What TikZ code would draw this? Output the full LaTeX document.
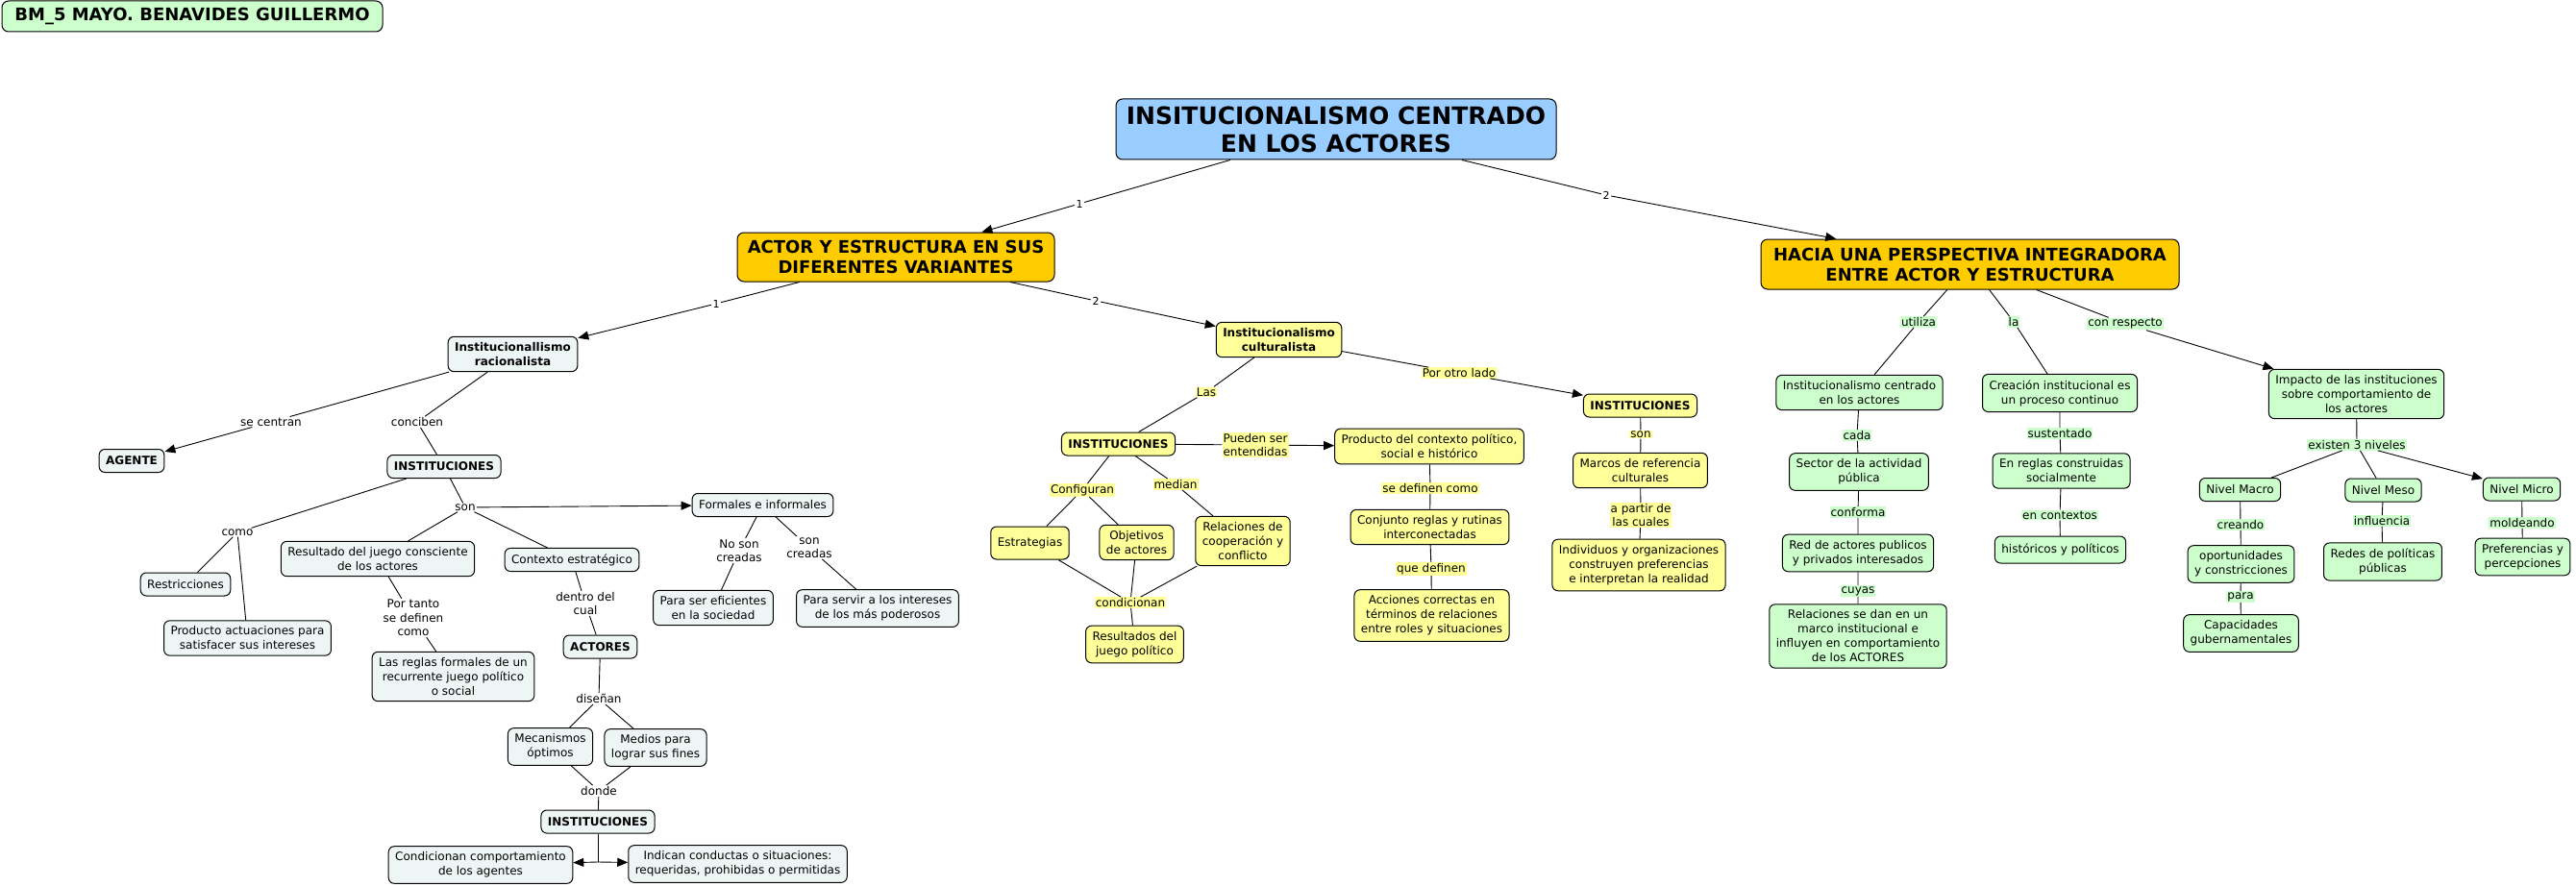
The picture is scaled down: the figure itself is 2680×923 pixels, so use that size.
\documentclass[tikz,border=0pt]{standalone}
\usepackage{fontspec}
\setmainfont{DejaVu Sans}
\usetikzlibrary{arrows.meta, positioning, shapes.misc}
\definecolor{mapblue}{RGB}{153,204,255}
\definecolor{maporange}{RGB}{255,204,0}
\definecolor{mapyellow}{RGB}{255,255,153}
\definecolor{mapgreen}{RGB}{204,255,204}
\definecolor{mapgray}{RGB}{238,245,245}

\begin{document}
\begin{tikzpicture}[x=1pt, y=-1pt, >={Triangle[length=11pt,width=9pt]}]
  % Define styles
  \tikzstyle{concept} = [rectangle, rounded corners=6pt, draw=black, line width=1pt, align=center, inner xsep=7pt, inner ysep=6pt, minimum height=24pt, font=\fontsize{12}{15}\selectfont]
  \tikzstyle{keyconcept} = [concept, font=\bfseries\fontsize{12}{15}\selectfont]
  \tikzstyle{headline} = [rectangle, rounded corners=7pt, draw=black, line width=1pt, align=center, font=\bfseries\fontsize{18}{21}\selectfont]
  \tikzstyle{linkphrase} = [inner sep=1pt, align=center, font=\fontsize{12}{14.5}\selectfont]
  \tikzstyle{linknum} = [fill=white, inner sep=1.5pt, font=\fontsize{11}{13}\selectfont]
  \tikzstyle{line} = [draw, line width=0.9pt]
  \tikzstyle{arrow} = [line, ->]

  \fill [white] (0,0) rectangle (2680,923);
  \useasboundingbox (0,0) rectangle (2680,923);

  % Place nodes
  \node [headline, fill=mapgreen, minimum width=396pt, minimum height=32pt] (author) at (200,17) {BM\_5 MAYO. BENAVIDES GUILLERMO};
  \node [headline, fill=mapblue, font=\bfseries\fontsize{25}{29}\selectfont, minimum width=458pt, minimum height=63pt] (main) at (1390,134.5) {INSITUCIONALISMO CENTRADO\\EN LOS ACTORES};
  \node [headline, fill=maporange, minimum width=330pt, minimum height=51pt] (actor) at (932,267.5) {ACTOR Y ESTRUCTURA EN SUS\\DIFERENTES VARIANTES};
  \node [headline, fill=maporange, minimum width=435pt, minimum height=52pt] (hacia) at (2049.5,275) {HACIA UNA PERSPECTIVA INTEGRADORA\\ENTRE ACTOR Y ESTRUCTURA};

  % racionalista branch
  \node [keyconcept, fill=mapgray] (racio) at (533.5,368.5) {Institucionallismo\\racionalista};
  \node [keyconcept, fill=mapgray] (agente) at (137,479.5) {AGENTE};
  \node [keyconcept, fill=mapgray] (instL) at (462,485.5) {INSTITUCIONES};
  \node [concept, fill=mapgray] (restr) at (193,608) {Restricciones};
  \node [concept, fill=mapgray] (prodAct) at (257.5,664) {Producto actuaciones para\\satisfacer sus intereses};
  \node [concept, fill=mapgray] (resJuego) at (393,581.5) {Resultado del juego consciente\\de los actores};
  \node [concept, fill=mapgray] (contexto) at (595,582.5) {Contexto estratégico};
  \node [concept, fill=mapgray] (reglasF) at (471.5,704) {Las reglas formales de un\\recurrente juego político\\o social};
  \node [keyconcept, fill=mapgray] (actores) at (624.5,673) {ACTORES};
  \node [concept, fill=mapgray] (mecan) at (572.5,777) {Mecanismos\\óptimos};
  \node [concept, fill=mapgray] (medios) at (682,778) {Medios para\\lograr sus fines};
  \node [keyconcept, fill=mapgray] (instB) at (622,855) {INSTITUCIONES};
  \node [concept, fill=mapgray] (condic) at (500,900) {Condicionan comportamiento\\de los agentes};
  \node [concept, fill=mapgray] (indican) at (767.5,899) {Indican conductas o situaciones:\\requeridas, prohibidas o permitidas};
  \node [concept, fill=mapgray] (formales) at (793.5,525.5) {Formales e informales};
  \node [concept, fill=mapgray] (paraSer) at (742,632.5) {Para ser eficientes\\en la sociedad};
  \node [concept, fill=mapgray] (paraServir) at (913,633) {Para servir a los intereses\\de los más poderosos};
  \coordinate (fork) at (622,897);

  % culturalista branch
  \node [keyconcept, fill=mapyellow] (cultu) at (1330.5,353.5) {Institucionalismo\\culturalista};
  \node [keyconcept, fill=mapyellow] (instM) at (1163.5,462) {INSTITUCIONES};
  \node [concept, fill=mapyellow] (productoCtx) at (1487,464.5) {Producto del contexto político,\\social e histórico};
  \node [concept, fill=mapyellow, minimum height=34pt] (estrat) at (1071.5,565) {Estrategias};
  \node [concept, fill=mapyellow] (objet) at (1182.5,564.5) {Objetivos\\de actores};
  \node [concept, fill=mapyellow] (relac) at (1293,563) {Relaciones de\\cooperación y\\conflicto};
  \node [concept, fill=mapyellow] (resultados) at (1180.5,670.5) {Resultados del\\juego político};
  \node [concept, fill=mapyellow] (conjunto) at (1487.5,548.5) {Conjunto reglas y rutinas\\interconectadas};
  \node [concept, fill=mapyellow] (acciones) at (1489.5,640.5) {Acciones correctas en\\términos de relaciones\\entre roles y situaciones};
  \node [keyconcept, fill=mapyellow] (instR) at (1706.5,422) {INSTITUCIONES};
  \node [concept, fill=mapyellow] (marcos) at (1706.5,489.5) {Marcos de referencia\\culturales};
  \node [concept, fill=mapyellow] (individuos) at (1705,588) {Individuos y organizaciones\\construyen preferencias\\e interpretan la realidad};

  % integradora branch
  \node [concept, fill=mapgreen] (instCentr) at (1934.5,408.5) {Institucionalismo centrado\\en los actores};
  \node [concept, fill=mapgreen] (sector) at (1934,491) {Sector de la actividad\\pública};
  \node [concept, fill=mapgreen] (red) at (1933,575.5) {Red de actores publicos\\y privados interesados};
  \node [concept, fill=mapgreen] (relMarco) at (1933,662) {Relaciones se dan en un\\marco institucional e\\influyen en comportamiento\\de los ACTORES};
  \node [concept, fill=mapgreen] (creacion) at (2143,409) {Creación institucional es\\un proceso continuo};
  \node [concept, fill=mapgreen] (enReglas) at (2144.5,490) {En reglas construidas\\socialmente};
  \node [concept, fill=mapgreen, minimum height=28pt] (historicos) at (2143.5,572) {históricos y políticos};
  \node [concept, fill=mapgreen] (impacto) at (2451.5,410) {Impacto de las instituciones\\sobre comportamiento de\\los actores};
  \node [concept, fill=mapgreen] (macro) at (2330.5,509.5) {Nivel Macro};
  \node [concept, fill=mapgreen] (meso) at (2479.5,510) {Nivel Meso};
  \node [concept, fill=mapgreen] (micro) at (2623.5,509) {Nivel Micro};
  \node [concept, fill=mapgreen] (oportun) at (2331.5,587) {oportunidades\\y constricciones};
  \node [concept, fill=mapgreen] (capac) at (2331.5,659) {Capacidades\\gubernamentales};
  \node [concept, fill=mapgreen] (redes) at (2479,584.5) {Redes de políticas\\públicas};
  \node [concept, fill=mapgreen] (prefer) at (2624.5,579.5) {Preferencias y\\percepciones};

  % Linking phrases
  \node [linknum] (numA) at (1123,212) {1};
  \node [linknum] (numB) at (1671,203) {2};
  \node [linknum] (numC) at (745,316) {1};
  \node [linknum] (numD) at (1140,313) {2};
  \node [linkphrase] (seCentran) at (282,439) {se centran};
  \node [linkphrase] (conciben) at (434,439) {conciben};
  \node [linkphrase] (son) at (484,528) {son};
  \node [linkphrase] (como) at (247,554) {como};
  \node [linkphrase] (porTanto) at (430,643) {Por tanto\\se definen\\como};
  \node [linkphrase] (dentro) at (609,628) {dentro del\\cual};
  \node [linkphrase] (disenan) at (623,727) {diseñan};
  \node [linkphrase] (donde) at (623,823) {donde};
  \node [linkphrase] (noSon) at (769,573) {No son\\creadas};
  \node [linkphrase] (sonCreadas) at (842,570) {son\\creadas};
  \node [linkphrase, fill=mapyellow] (las) at (1255,408) {Las};
  \node [linkphrase, fill=mapyellow] (pueden) at (1306,463) {Pueden ser\\entendidas};
  \node [linkphrase, fill=mapyellow] (configuran) at (1126,510) {Configuran};
  \node [linkphrase, fill=mapyellow] (median) at (1223,504) {median};
  \node [linkphrase, fill=mapyellow] (condicionan) at (1176,627) {condicionan};
  \node [linkphrase, fill=mapyellow] (seDefinen) at (1488,508) {se definen como};
  \node [linkphrase, fill=mapyellow] (queDefinen) at (1489,592) {que definen};
  \node [linkphrase, fill=mapyellow] (porOtro) at (1518,388) {Por otro lado};
  \node [linkphrase, fill=mapyellow] (sonR) at (1707,452) {son};
  \node [linkphrase, fill=mapyellow] (aPartir) at (1707,536) {a partir de\\las cuales};
  \node [linkphrase, fill=mapgreen] (utiliza) at (1996,335) {utiliza};
  \node [linkphrase, fill=mapgreen] (la) at (2095,335) {la};
  \node [linkphrase, fill=mapgreen] (conRespecto) at (2211,337) {con respecto};
  \node [linkphrase, fill=mapgreen] (cada) at (1932,453) {cada};
  \node [linkphrase, fill=mapgreen] (conforma) at (1933,533) {conforma};
  \node [linkphrase, fill=mapgreen] (cuyas) at (1933,615) {cuyas};
  \node [linkphrase, fill=mapgreen] (sustentado) at (2143,451) {sustentado};
  \node [linkphrase, fill=mapgreen] (enContextos) at (2143,536) {en contextos};
  \node [linkphrase, fill=mapgreen] (existen) at (2452,463) {existen 3 niveles};
  \node [linkphrase, fill=mapgreen] (creando) at (2331,546) {creando};
  \node [linkphrase, fill=mapgreen] (para) at (2331,621) {para};
  \node [linkphrase, fill=mapgreen] (influencia) at (2478,542) {influencia};
  \node [linkphrase, fill=mapgreen] (moldeando) at (2624,544) {moldeando};

  % Draw edges
  \path [arrow] (main) -- (numA) -- (actor);
  \path [arrow] (main) -- (numB) -- (hacia);
  \path [arrow] (actor) -- (numC) -- (racio);
  \path [arrow] (actor) -- (numD) -- (cultu);

  \path [arrow] (racio) -- (seCentran) -- (agente);
  \path [line] (racio) -- (conciben) -- (instL);
  \path [line] (instL) -- (como) -- (restr);
  \path [line] (como) -- (prodAct);
  \path [line] (instL) -- (son) -- (resJuego);
  \path [line] (son) -- (contexto);
  \path [arrow] (son) -- (formales);
  \path [line] (resJuego) -- (porTanto) -- (reglasF);
  \path [line] (contexto) -- (dentro) -- (actores);
  \path [line] (actores) -- (disenan) -- (mecan);
  \path [line] (disenan) -- (medios);
  \path [line] (mecan) -- (donde) -- (instB);
  \path [line] (medios) -- (donde);
  \path [line] (instB) -- (fork);
  \path [arrow] (fork) -- (condic);
  \path [arrow] (fork) -- (indican);
  \path [line] (formales) -- (noSon) -- (paraSer);
  \path [line] (formales) -- (sonCreadas) -- (paraServir);

  \path [line] (cultu) -- (las) -- (instM);
  \path [arrow] (cultu) -- (porOtro) -- (instR);
  \path [arrow] (instM) -- (pueden) -- (productoCtx);
  \path [line] (instM) -- (configuran) -- (estrat);
  \path [line] (configuran) -- (objet);
  \path [line] (instM) -- (median) -- (relac);
  \path [line] (estrat) -- (condicionan) -- (resultados);
  \path [line] (objet) -- (condicionan);
  \path [line] (relac) -- (condicionan);
  \path [line] (productoCtx) -- (seDefinen) -- (conjunto) -- (queDefinen) -- (acciones);
  \path [line] (instR) -- (sonR) -- (marcos) -- (aPartir) -- (individuos);

  \path [line] (hacia) -- (utiliza) -- (instCentr);
  \path [line] (hacia) -- (la) -- (creacion);
  \path [arrow] (hacia) -- (conRespecto) -- (impacto);
  \path [line] (instCentr) -- (cada) -- (sector) -- (conforma) -- (red) -- (cuyas) -- (relMarco);
  \path [line] (creacion) -- (sustentado) -- (enReglas) -- (enContextos) -- (historicos);
  \path [line] (impacto) -- (existen) -- (macro);
  \path [line] (existen) -- (meso);
  \path [arrow] (existen) -- (micro);
  \path [line] (macro) -- (creando) -- (oportun) -- (para) -- (capac);
  \path [line] (meso) -- (influencia) -- (redes);
  \path [line] (micro) -- (moldeando) -- (prefer);

\end{tikzpicture}
\end{document}
